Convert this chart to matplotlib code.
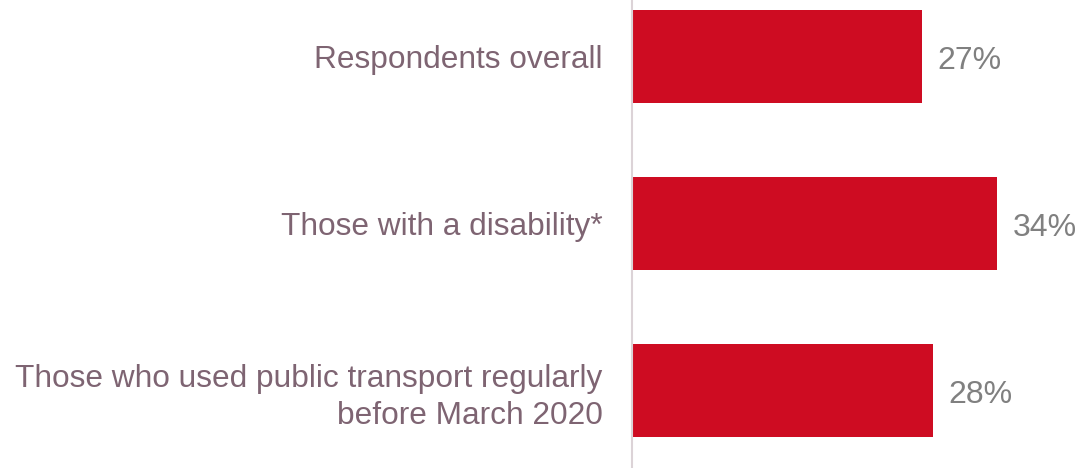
import matplotlib.pyplot as plt

categories = ['Respondents overall', 'Those with a disability*',
              'Those who used public transport regularly\nbefore March 2020']
values = [27, 34, 28]

plt.rcParams['font.family'] = ['Liberation Sans', 'DejaVu Sans']

fig = plt.figure(figsize=(10.81, 4.68), dpi=100)
ax = fig.add_axes([632 / 1081, 0, 449 / 1081, 1])

pos = range(len(categories))
bars = ax.barh(pos, values, height=0.557, color='#ce0c22')

for b, v in zip(bars, values):
    ax.annotate(f'{v}%', (b.get_width(), b.get_y() + b.get_height() / 2),
                xytext=(11, -3), textcoords='offset points',
                va='center', ha='left', fontsize=23, color='#808080')

ax.set_xlim(0, 449 / 10.74)
ax.set_ylim(2.464, -0.338)
ax.set_yticks(list(pos))
ax.set_yticklabels(categories, fontsize=22.8, color='#7e6472', linespacing=1.3)
ax.tick_params(axis='y', length=0, pad=21)
ax.set_xticks([])
for s in ['top', 'right', 'bottom']:
    ax.spines[s].set_visible(False)
ax.spines['left'].set_color('#dcd3d7')
ax.spines['left'].set_linewidth(1.5)

fig.savefig('out.png', dpi=100)
